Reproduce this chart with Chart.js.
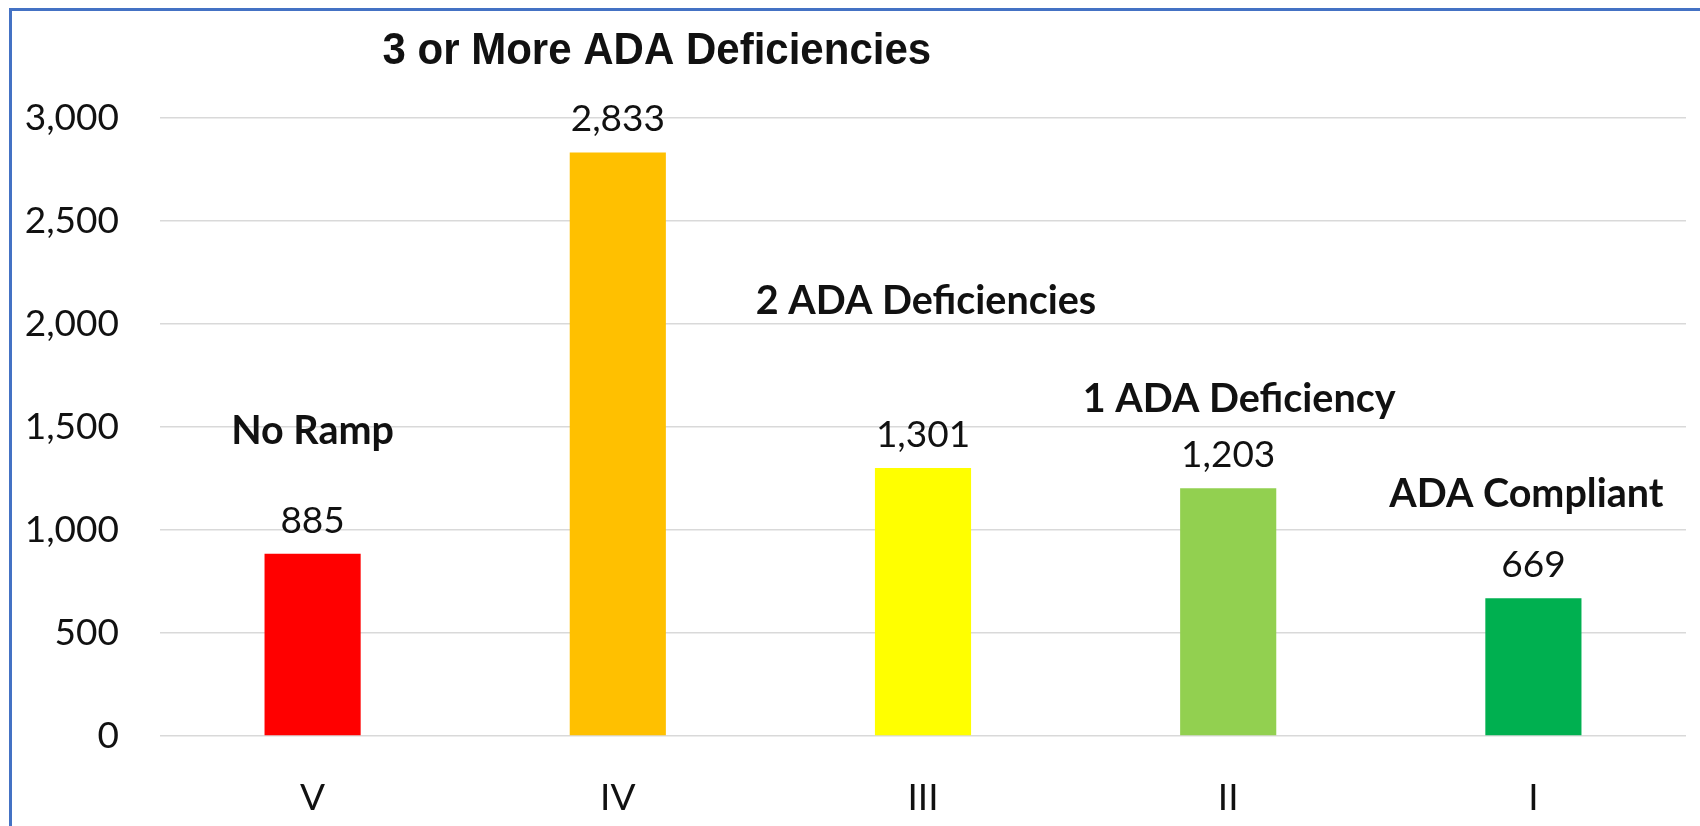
<!DOCTYPE html>
<html>
<head>
<meta charset="utf-8">
<script src="https://cdn.jsdelivr.net/npm/chart.js@4"></script>
<style>
  html, body { margin: 0; padding: 0; background: #fff; overflow: hidden; }
  canvas { display: block; }
</style>
</head>
<body>
<canvas id="rampChart" width="1700" height="826"></canvas>
<script>
// ramp condition classes (left to right)
const classes = ["V", "IV", "III", "II", "I"];
const rampCounts = [885, 2833, 1301, 1203, 669];
const groupNames = ["No Ramp", "3 or More ADA Deficiencies", "2 ADA Deficiencies", "1 ADA Deficiency", "ADA Compliant"];
const barColors = ["#FF0000", "#FFC000", "#FFFF00", "#92D050", "#00B050"];
const yTicks = [0, 500, 1000, 1500, 2000, 2500, 3000];

// where each group name sits, relative to its bar (px)
const noteSpots = [
    { dx: 0, dy: -122 },
    { dx: 39, dy: -101 },
    { dx: 3, dy: -167 },
    { dx: 11, dy: -89 },
    { dx: -7, dy: -104 }
];

const fmt = v => v.toLocaleString("en-US");

// blue frame on the top and left edges of the slide
const frame = {
    id: "frame",
    afterDraw(chart) {
        const c = chart.ctx;
        c.save();
        c.strokeStyle = "#4472C4";
        c.lineWidth = 3;
        c.beginPath();
        c.moveTo(10.5, chart.height);
        c.lineTo(10.5, 9.5);
        c.lineTo(chart.width, 9.5);
        c.stroke();
        c.restore();
    }
};

// value labels + group names above bars
const barNotes = {
    id: "barNotes",
    afterDatasetsDraw(chart) {
        const c = chart.ctx;
        const bars = chart.getDatasetMeta(0).data;
        c.save();
        c.textAlign = "center";
        c.textBaseline = "middle";
        c.fillStyle = "#111";
        bars.forEach((bar, i) => {
            c.font = "37px Lato";
            c.fillText(fmt(rampCounts[i]), bar.x, bar.y - 33);

            const spot = noteSpots[i];
            if (i === 1) {
                // this one is in an Arial-like face, a bit narrowed
                c.save();
                c.translate(bar.x + spot.dx, bar.y + spot.dy);
                c.scale(0.955, 1);
                c.font = "bold 44px 'Liberation Sans'";
                c.fillText(groupNames[i], 0, 0);
                c.restore();
            } else {
                c.font = "bold 39.5px Lato";
                c.fillText(groupNames[i], bar.x + spot.dx, bar.y + spot.dy);
            }
        });
        c.restore();
    }
};

const ctx = document.getElementById("rampChart").getContext("2d");
const rampChart = new Chart(ctx, {
    type: "bar",
    data: {
        labels: classes,
        datasets: [{
            data: rampCounts,
            backgroundColor: barColors,
            borderWidth: 0,
            barPercentage: 0.315,
            categoryPercentage: 1
        }]
    },
    options: {
        responsive: false,
        animation: false,
        layout: { padding: { left: 0, right: 14, top: 118, bottom: 0 } },
        plugins: {
            legend: { display: false },
            tooltip: { enabled: false }
        },
        scales: {
            x: {
                grid: { display: false },
                border: { display: false },
                ticks: { color: "#111", font: { family: "Lato", size: 37 }, padding: 32 },
                afterFit: axis => { axis.height = 90; }
            },
            y: {
                min: 0,
                max: 3000,
                afterBuildTicks: axis => { axis.ticks = yTicks.map(v => ({ value: v })); },
                grid: { color: "#D9D9D9", lineWidth: 1.5, drawTicks: false },
                border: { display: false },
                ticks: {
                    color: "#111",
                    font: { family: "Lato", size: 37 },
                    padding: 41,
                    callback: v => fmt(v)
                },
                afterFit: axis => { axis.width = 160; }
            }
        }
    },
    plugins: [barNotes, frame]
});
</script>
</body>
</html>
